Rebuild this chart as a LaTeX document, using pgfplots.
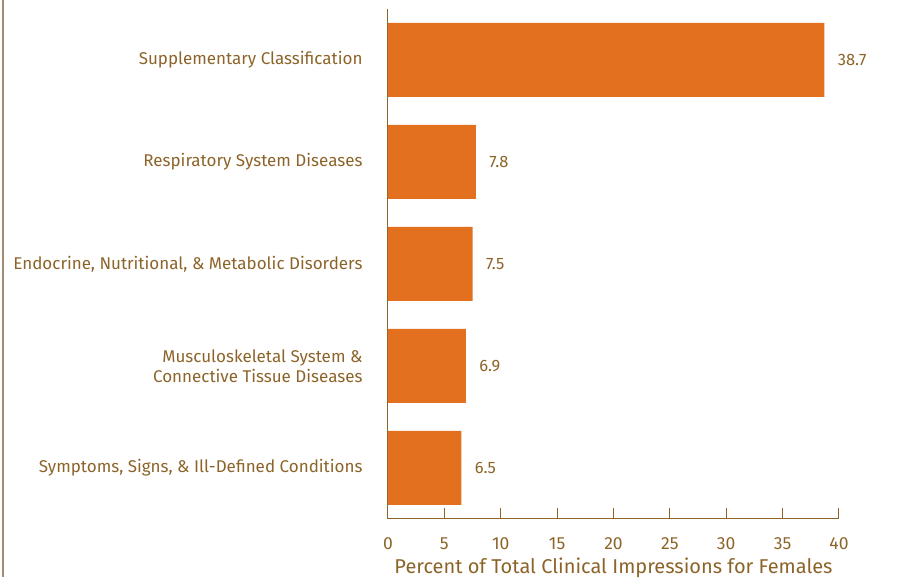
\documentclass[border=0pt]{standalone}
\usepackage{fontspec}
\setmainfont{Fira Sans}
\usepackage{pgfplots}
\pgfplotsset{compat=1.18}
\usetikzlibrary{calc}
\definecolor{barorange}{HTML}{E2701E}
\definecolor{txtbrown}{HTML}{8C6429}
\definecolor{edgegray}{HTML}{A08C70}
\begin{document}
\begin{tikzpicture}
\begin{axis}[
    name=ax,
    xbar,
    scale only axis,
    width=451pt, height=510pt,
    xmin=0, xmax=40,
    ymin=-0.5, ymax=4.5,
    bar width=74pt,
    axis lines*=left,
    axis line style={txtbrown, line width=1pt},
    xtick={0,5,...,40},
    tick align=inside,
    major tick length=11pt,
    tick style={txtbrown, line width=1pt},
    ytick={0,1,2,3,4},
    yticklabels={{Symptoms, Signs, \& Ill-Defined Conditions},
      {Musculoskeletal System \&\\Connective Tissue Diseases},
      {Endocrine, Nutritional, \& Metabolic Disorders},
      Respiratory System Diseases,
      Supplementary Classification},
    y tick style={draw=none},
    yticklabel style={align=right, font=\fontsize{17}{20}\selectfont, text=txtbrown, xshift=-22pt},
    xticklabel shift=15pt,
    xticklabel style={font=\fontsize{17.5}{20}\selectfont, text=txtbrown},
    /pgf/number format/assume math mode=true,
    xlabel={Percent of Total Clinical Impressions for Females},
    xlabel style={font=\fontsize{20}{24}\selectfont, text=txtbrown, yshift=-1pt},
    nodes near coords,
    nodes near coords style={font=\fontsize{16.5}{19}\selectfont, text=txtbrown, anchor=west, xshift=10pt,
      /pgf/number format/.cd, fixed, precision=1, fixed zerofill, assume math mode=true},
]
\addplot[fill=barorange, draw=none] coordinates {
    (6.5,0) (6.9,1) (7.5,2) (7.8,3) (38.7,4)};
\end{axis}
\path[use as bounding box] ($(ax.south west)+(-388pt,-58pt)$) rectangle ($(ax.south west)+(511pt,519pt)$);
\draw[edgegray, line width=1.2pt] ($(ax.south west)+(-385pt,-58pt)$) -- ($(ax.south west)+(-385pt,519pt)$);
\end{tikzpicture}
\end{document}
